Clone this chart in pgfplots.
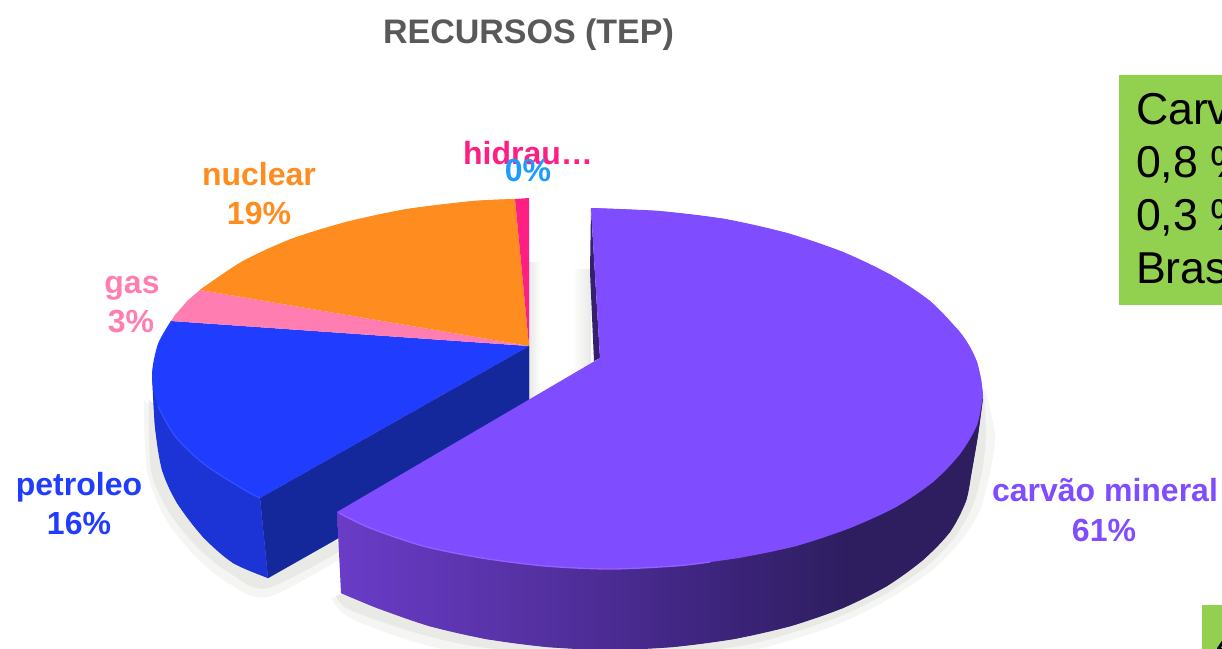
\documentclass[border=0pt]{standalone}
\usepackage{pgfplots}
\pgfplotsset{compat=1.18}
\usepackage{fontspec}
\setmainfont{Liberation Sans}
\definecolor{pu}{HTML}{7F4CFF}
\definecolor{puA}{HTML}{6A3CC8}
\definecolor{puB}{HTML}{53309F}
\definecolor{puC}{HTML}{3F2580}
\definecolor{puD}{HTML}{2E1E60}
\definecolor{puDark}{HTML}{35206E}
\definecolor{puRim}{HTML}{9560FF}
\definecolor{bl}{HTML}{1F3CFF}
\definecolor{blSide}{HTML}{1C33D6}
\definecolor{blDark}{HTML}{14289C}
\definecolor{blRim}{HTML}{3050FF}
\definecolor{orr}{HTML}{FF8C1E}
\definecolor{pk}{HTML}{FF7DB0}
\definecolor{hot}{HTML}{FF1E82}
\definecolor{sky}{HTML}{1E9BFF}
\definecolor{grn}{HTML}{92D050}
\definecolor{ttl}{HTML}{595959}
\definecolor{shA}{HTML}{F5F5F3}
\definecolor{shB}{HTML}{E9E9E6}
\pgfdeclarehorizontalshading{purpleside}{100bp}{color(0bp)=(puA); color(25bp)=(puA); color(41.5bp)=(puB); color(53bp)=(puC); color(64.5bp)=(puD); color(100bp)=(puD)}
\tikzset{lab/.style={anchor=base, inner sep=0pt, outer sep=0pt, font=\fontsize{24}{28}\selectfont\bfseries},
         box/.style={anchor=base west, inner sep=0pt, outer sep=0pt, text=black, font=\fontsize{33.5}{40}\selectfont}}
\begin{document}
\begin{tikzpicture}
\useasboundingbox (0,0) rectangle (916.5pt,486.75pt);
\clip (0,0) rectangle (916.5pt,486.75pt);
\begin{axis}[
  at={(0,0)}, anchor=south west,
  scale only axis, width=916.5pt, height=486.75pt,
  hide axis, xmin=0, xmax=1222, ymin=0, ymax=649, y dir=reverse, clip=true
]
% gap shadows
\addplot[draw=none, left color=shB, right color=white] coordinates {(529,263) (541,263) (541,400) (529,400)} --cycle;
\addplot[draw=none, left color=white, right color=shB] coordinates {(572,270) (591,270) (591,372) (572,372)} --cycle;
% drop shadows
\addplot[smooth, draw=none, fill=shA] coordinates {(331,598) (350,618) (415,642) (487,658) (610,668) (734,654) (791,640) (843,622) (887,600) (930,572) (960,542) (980,510) (990,472) (995,435) (985,390)};
\addplot[smooth, draw=none, fill=shB] coordinates {(336,596) (350,610) (420,634) (487,648) (610,659) (734,647) (791,633) (843,615) (887,593) (927,566) (955,537) (973,505) (982,472) (986,435) (984,395)};
\addplot[smooth, draw=none, fill=shA] coordinates {(144,400) (147,470) (165,518) (195,556) (228,583) (268,597) (345,556)};
\addplot[smooth, draw=none, fill=shB] coordinates {(149,400) (151,470) (169,512) (198,548) (231,574) (268,588) (345,548)};
% blue slice
\addplot[fill=blDark, draw=blDark, line width=0.2pt] coordinates {(529,346) (260,498) (268,578) (529,430)} --cycle;
\addplot[fill=blSide, draw=none] coordinates {(152,373) (155,427) (162,470) (177,503) (203,537) (233,563) (268,578) (260,498)} --cycle;
\addplot[smooth, fill=blSide, draw=none] coordinates {(152,373) (155,427) (162,470) (177,503) (203,537) (233,563) (268,578)};
\addplot[fill=bl, draw=none] coordinates {(529,346) (171,321) (158,344) (152,375) (158,406) (175,436) (204,464) (243,489) (260,498)} --cycle;
\addplot[smooth, fill=bl, draw=none] coordinates {(171,321) (158,344) (152,375) (158,406) (175,436) (204,464) (243,489) (260,498)};
\addplot[smooth, draw=blRim, line width=1pt] coordinates {(158,406) (175,436) (204,464) (243,489) (260,498)};
% gas
\addplot[fill=pk, draw=none] coordinates {(529,346) (200,290) (188,300) (175,315) (171,321)} --cycle;
% nuclear
\addplot[fill=orr, draw=none] coordinates {(529,346) (515,199) (473,201) (407,209) (346,222) (291,239) (243,261) (204,287) (200,290)} --cycle;
\addplot[smooth, fill=orr, draw=none] coordinates {(515,199) (473,201) (407,209) (346,222) (291,239) (243,261) (204,287) (200,290)};
% hidraulica
\addplot[fill=hot, draw=none] coordinates {(529,346) (529,198) (515,199)} --cycle;
% carvao side
\addplot[draw=none, fill=puDark] coordinates {(591,208) (590,272) (594,361) (600,358)} --cycle;
\addplot[smooth, draw=none, shading=purpleside] coordinates {(341,593) (377,608) (429,626) (486,639) (547,647) (610,650) (673,647) (734,639) (791,626) (843,608) (887,586) (923,560) (950,532) (966,501) (972,470) (978,435) (983,398)};
\addplot[draw=none, shading=purpleside] coordinates {(337,512) (341,593) (377,608) (429,626) (486,639) (547,647) (610,650) (673,647) (734,639) (791,626) (843,608) (887,586) (923,560) (950,532) (966,501) (972,470) (978,435) (983,398)} --cycle;
% carvao top
\addplot[fill=pu, draw=none] coordinates {(600,358) (591,208) (659,211) (725,219) (787,233) (843,252) (891,275) (930,301) (959,331) (970,347) (977,362) (981,379) (983,395) (977,425) (960,454) (933,482) (896,507) (850,528) (796,546) (738,558) (675,566) (610,569) (545,566) (482,558) (423,546) (370,528) (337,512)} --cycle;
\addplot[smooth, fill=pu, draw=none] coordinates {(591,208) (659,211) (725,219) (787,233) (843,252) (891,275) (930,301) (959,331) (970,347) (977,362) (981,379) (983,395)};
\addplot[smooth, fill=pu, draw=none] coordinates {(983,395) (977,425) (960,454) (933,482) (896,507) (850,528) (796,546) (738,558) (675,566) (610,569) (545,566) (482,558) (423,546) (370,528) (337,512)};
\addplot[smooth, draw=puRim, line width=1pt] coordinates {(339,513) (370,528) (423,546) (482,558) (545,566) (610,569) (675,566) (710,562)};
% green boxes
\addplot[fill=grn, draw=none] coordinates {(1119,75) (1222,75) (1222,305) (1119,305)} --cycle;
\addplot[fill=grn, draw=none] coordinates {(1202,605) (1222,605) (1222,649) (1202,649)} --cycle;
% texts
\node[lab, text=ttl, font=\fontsize{25.5}{30}\selectfont\bfseries] at (528.5,44) {RECURSOS (TEP)};
\node[lab, text=orr] at (259,186) {nuclear};
\node[lab, text=orr] at (259,225) {19\%};
\node[lab, text=pk] at (132,293) {gas};
\node[lab, text=pk] at (131,333) {3\%};
\node[lab, text=bl] at (79,495) {petroleo};
\node[lab, text=bl] at (79,534) {16\%};
\node[lab, text=hot] at (528,165) {hidrau…};
\node[lab, text=sky] at (528,182) {0\%};
\node[lab, text=pu] at (1105,501) {carvão mineral};
\node[lab, text=pu] at (1104,541) {61\%};
\node[box] at (1136,125) {Carv};
\node[box] at (1136,178) {0,8 \%};
\node[box] at (1136,231) {0,3 \%};
\node[box] at (1136,283) {Bras};
\node[box] at (1216,658) {4};
\end{axis}
\end{tikzpicture}
\end{document}
